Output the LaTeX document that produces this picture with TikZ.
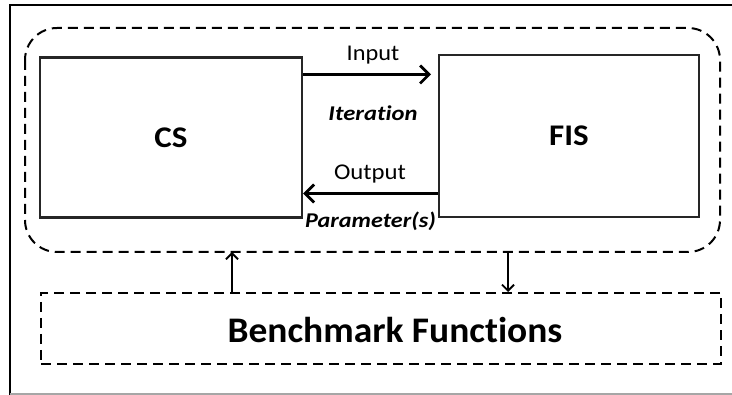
\documentclass[tikz,border=0pt]{standalone}
\usepackage{fontspec}
\setmainfont[Ligatures=CommonOff]{Carlito}
\usetikzlibrary{arrows.meta}
\begin{document}
\begin{tikzpicture}[x=1pt,y=-1pt,
  block/.style={draw=black!85,line width=2.2pt,minimum width=262pt,minimum height=160pt,inner sep=0pt,font=\fontsize{30}{31}\selectfont\bfseries},
  dashline/.style={dash pattern=on 10pt off 6pt,line width=2pt},
  flow/.style={line width=3pt,-{Straight Barb[length=9pt,width=18pt,line width=2.8pt]}},
  link/.style={line width=2pt,-{Straight Barb[length=6pt,width=12pt,line width=1.8pt]}},
  lbl/.style={font=\fontsize{22.5}{24}\selectfont,inner sep=0pt},
  tag/.style={font=\fontsize{21}{22}\selectfont\bfseries\itshape,inner sep=0pt}]
\useasboundingbox (0,0) rectangle (732,395);
\fill[white] (0,0) rectangle (732,395);
% frame
\draw[line width=2pt] (10,395) -- (10,5) -- (732,5);
\draw[gray!70,line width=1.5pt] (10,394) -- (732,394);
% dashed group
\draw[dashline,rounded corners=32pt] (25,28) rectangle (720,252);
\node[block] (cs) at (171,137.5) {\scalebox{1.1}[1]{CS}};
\node[block,minimum width=260pt,minimum height=162pt] (fis) at (569,136) {\scalebox{1.1}[1]{FIS}};
\node[draw,dashline,minimum width=680pt,minimum height=71pt,inner sep=0pt] (bench) at (381,328.5) {};
\node[font=\fontsize{36}{37}\selectfont\bfseries,inner sep=0pt] (benchtxt) at (395,330) {\scalebox{1.04}[1]{Benchmark Functions}};
\coordinate (grpB1) at (232,252);
\coordinate (grpB2) at (508,252);
% arrows
\draw[flow] (cs.east |- 0,74.5) -- (431,74.5);
\draw[flow] (fis.west |- 0,193.5) -- (cs.east |- 0,193.5);
\node[lbl] (in) at (373,55) {\scalebox{1.08}[1]{Input}};
\node[tag] (it) at (373,113) {\scalebox{1.17}[1]{Iteration}};
\node[lbl] (out) at (370,174) {\scalebox{1.1}[1]{Output}};
\node[tag] (par) at (370.5,221) {\scalebox{1.15}[1]{Parameter(s)}};
\draw[link] (bench.north -| grpB1) -- (grpB1);
\draw[link] (grpB2) -- (bench.north -| grpB2);
\end{tikzpicture}
\end{document}
